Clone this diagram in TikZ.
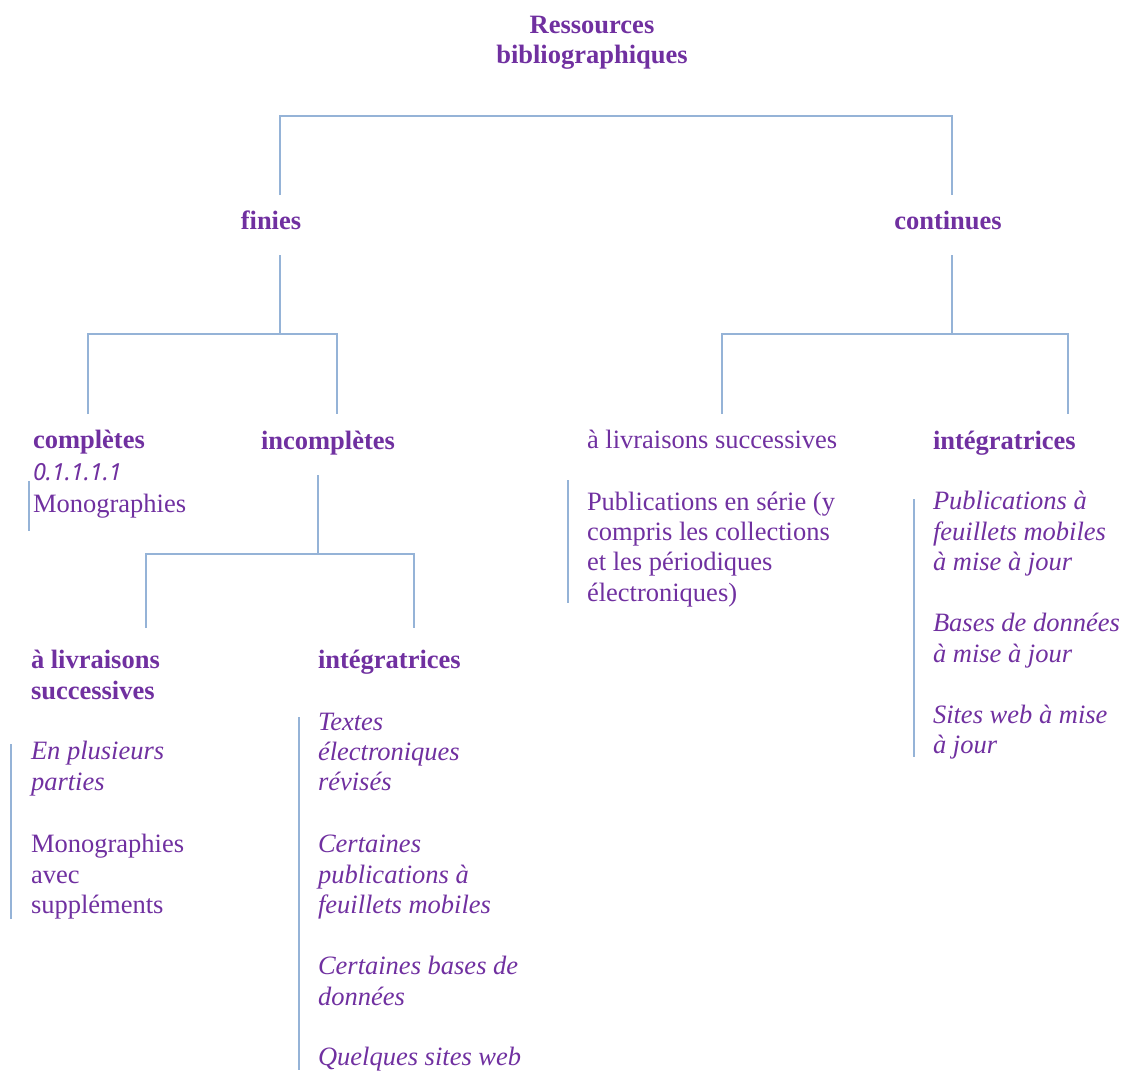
\documentclass[tikz,border=0pt]{standalone}
\usepackage{fontspec}
\setmainfont{Liberation Serif}
\newfontfamily\numfont{Noto Sans}
\usepackage{tikz}
\definecolor{violet_t}{HTML}{7030A0}
\definecolor{bleu_l}{HTML}{95B3D7}
\tikzset{
        resnode/.style = {inner sep=0pt, outer sep=0pt, violet_t,
            font=\fontsize{26.5}{30.3}\selectfont, align=left, anchor=base west},
        res_b/.style = {resnode, font=\fontsize{26.5}{30.3}\selectfont\bfseries},
        res_n/.style = {resnode},
        res_i/.style = {resnode, font=\fontsize{26.5}{30.3}\selectfont\itshape},
        res_s/.style = {resnode, font=\fontsize{23.5}{30.3}\selectfont\numfont\itshape},
        lnk/.style = {draw=bleu_l, line width=1.8pt}
    }
\begin{document}
\begin{tikzpicture}[x=1pt, y=-1pt]
            \clip (0,0) rectangle (1123,1070);
            % ROOT (multi-line nodes sit on their last baseline)
            \node [res_b, align=center, anchor=base] (ttl) at (592,63.5) {Ressources\\bibliographiques};
            \node [res_b, anchor=base] (fin) at (271,229) {finies};
            \node [res_b, anchor=base] (con) at (948,229) {continues};
            % finies
            \node [res_b] (cpl) at (33,448) {complètes};
            \node [res_s] (cpl_num) at (33,480) {0.1.1.1.1};
            \node [res_n] (cpl_mono) at (33,512) {Monographies};
            \node [res_b] (inc) at (261,449) {incomplètes};
            % incompletes
            \node [res_b] (ils) at (31,699) {à livraisons\\successives};
            \node [res_i] (ils_a) at (31,790) {En plusieurs\\parties};
            \node [res_n] (ils_b) at (31,913.5) {Monographies\\avec\\suppléments};
            \node [res_b] (iint) at (318,668) {intégratrices};
            \node [res_i] (iint_a) at (318,790.7) {Textes\\électroniques\\révisés};
            \node [res_i] (iint_b) at (318,913.5) {Certaines\\publications à\\feuillets mobiles};
            \node [res_i] (iint_c) at (318,1005) {Certaines bases de\\données};
            \node [res_i] (iint_d) at (318,1065) {Quelques sites web};
            % continues
            \node [res_n] (cls) at (587,448) {à livraisons successives};
            \node [res_n] (cls_pub) at (587,601) {Publications en série (y\\compris les collections\\et les périodiques\\électroniques)};
            \node [res_b] (cint) at (933,449) {intégratrices};
            \node [res_i] (cint_a) at (933,570.5) {Publications à\\feuillets mobiles\\à mise à jour};
            \node [res_i] (cint_b) at (933,662) {Bases de données\\à mise à jour};
            \node [res_i] (cint_c) at (933,753.5) {Sites web à mise\\à jour};
            % branch points
            \coordinate (root_j) at (616,116);
            \coordinate (fin_in) at (280,195);
            \coordinate (con_in) at (952,195);
            \coordinate (fin_out) at (280,255);
            \coordinate (fin_j) at (280,334);
            \coordinate (cpl_in) at (88,414);
            \coordinate (inc_in) at (337,414);
            \coordinate (con_out) at (952,255);
            \coordinate (con_j) at (952,334);
            \coordinate (cls_in) at (722,414);
            \coordinate (cint_in) at (1068,414);
            \coordinate (inc_out) at (318,475);
            \coordinate (inc_j) at (318,554);
            \coordinate (ils_in) at (146,628);
            \coordinate (iint_in) at (414,628);
            % connectors
            \draw [lnk] (fin_in) |- (root_j) -| (con_in);
            \draw [lnk] (fin_out) -- (fin_j);
            \draw [lnk] (cpl_in) |- (fin_j) -| (inc_in);
            \draw [lnk] (con_out) -- (con_j);
            \draw [lnk] (cls_in) |- (con_j) -| (cint_in);
            \draw [lnk] (inc_out) -- (inc_j);
            \draw [lnk] (ils_in) |- (inc_j) -| (iint_in);
            % side bars
            \coordinate (cpl_t) at (29,481);   \coordinate (cpl_e) at (29,531);
            \coordinate (ils_t) at (11,744);   \coordinate (ils_e) at (11,919);
            \coordinate (iint_t) at (299,717); \coordinate (iint_e) at (299,1070);
            \coordinate (cls_t) at (568,480);  \coordinate (cls_e) at (568,603);
            \coordinate (cint_t) at (914,499); \coordinate (cint_e) at (914,757);
            \draw [lnk] (cpl_t) -- (cpl_e);
            \draw [lnk] (ils_t) -- (ils_e);
            \draw [lnk] (iint_t) -- (iint_e);
            \draw [lnk] (cls_t) -- (cls_e);
            \draw [lnk] (cint_t) -- (cint_e);
        \end{tikzpicture}
\end{document}
